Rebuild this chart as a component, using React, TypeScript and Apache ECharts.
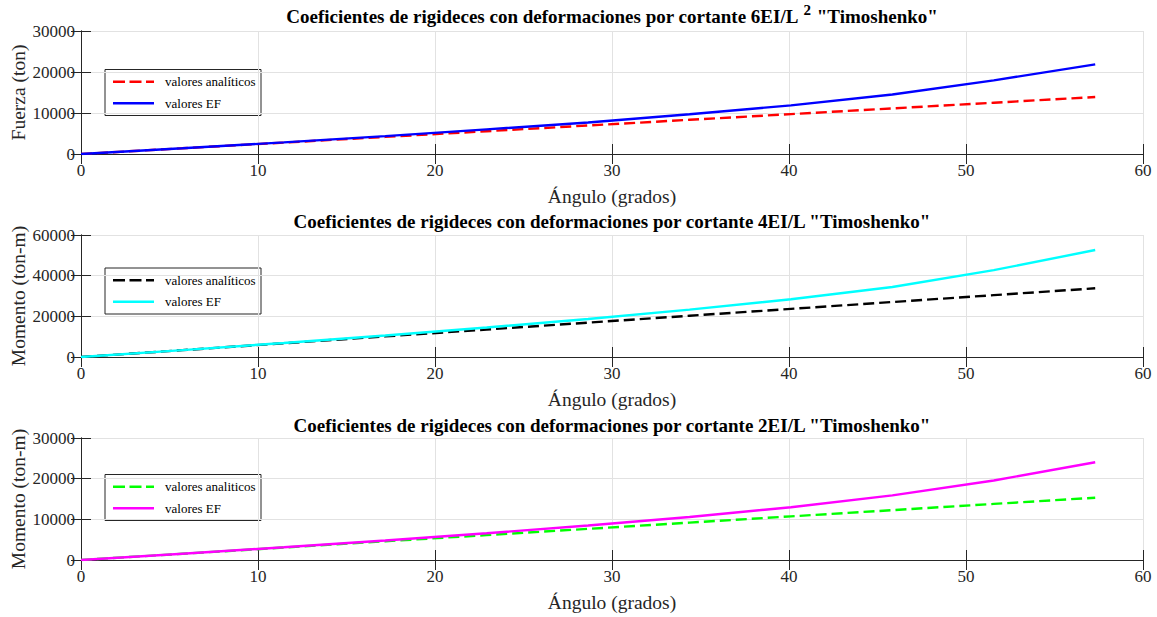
import React, { useEffect, useRef } from "react";
import * as echarts from "echarts";

// Ángulos (grados) — pasos de 0.1 rad
const angles = [0, 5.73, 11.46, 17.19, 22.92, 28.65, 34.38, 40.11, 45.84, 51.57, 57.3];

// 6EI/L^2 — Fuerza (ton)
const fuerzaAnalitico = [0, 1390, 2780, 4170, 5560, 6950, 8340, 9730, 11120, 12510, 13900];
const fuerzaEF = [0, 1400, 2840, 4360, 6000, 7700, 9680, 11870, 14500, 17950, 21850];

// 4EI/L — Momento (ton-m)
const momento4Analitico = [0, 3380, 6760, 10140, 13520, 16900, 20280, 23660, 27040, 30420, 33800];
const momento4EF = [0, 3400, 6900, 10600, 14530, 18670, 23320, 28390, 34400, 42700, 52600];

// 2EI/L — Momento (ton-m)
const momento2Analitico = [0, 1530, 3060, 4600, 6130, 7660, 9190, 10730, 12260, 13790, 15320];
const momento2EF = [0, 1540, 3130, 4800, 6590, 8470, 10570, 12980, 15900, 19550, 24050];

const xTicks = [0, 10, 20, 30, 40, 50, 60];
const yMax = [30000, 60000, 30000];
const yInterval = [10000, 20000, 10000];
const yNames = ["Fuerza (ton)", "Momento (ton-m)", "Momento (ton-m)"];
const xName = "Ángulo (grados)";
const titles = [
  ["Coeficientes de rigideces con deformaciones por cortante 6EI/L", "2", ' "Timoshenko"'],
  ['Coeficientes de rigideces con deformaciones por cortante 4EI/L "Timoshenko"'],
  ['Coeficientes de rigideces con deformaciones por cortante 2EI/L "Timoshenko"'],
];
const legendLabels = [
  ["valores analíticos", "valores EF"],
  ["valores analíticos", "valores EF"],
  ["valores analiticos", "valores EF"],
];
const analyticColors = ["#ff0000", "#000000", "#00ff00"];
const efColors = ["#0000ff", "#00ffff", "#ff00ff"];

const FONT = "'Liberation Serif', 'Times New Roman', serif";
const AX = "#262626";
const DASH = [11, 5];

const gridTops = [31, 235, 438];
const gridHeights = [123, 122, 122];
const gridLeft = 81;
const gridWidth = 1062;
const titleY = [15, 219.5, 423.5];
const legendTops = [69.5, 268, 474.5];

export default function App() {
  const ref = useRef<HTMLDivElement>(null);

  useEffect(() => {
    if (!ref.current) return;
    const chart = echarts.init(ref.current, null, { renderer: "svg" });

    const analyticSets = [fuerzaAnalitico, momento4Analitico, momento2Analitico];
    const efSets = [fuerzaEF, momento4EF, momento2EF];

    const grids: any[] = [];
    const xAxes: any[] = [];
    const yAxes: any[] = [];
    const series: any[] = [];
    const graphics: any[] = [];

    for (let i = 0; i < 3; i++) {
      grids.push({
        left: gridLeft,
        top: gridTops[i],
        width: gridWidth,
        height: gridHeights[i],
        containLabel: false,
        outerBoundsMode: "none",
      });
      const tickCommon = {
        show: true,
        inside: true,
        length: 10,
        lineStyle: { color: AX, width: 1 },
      };
      xAxes.push({
        type: "value",
        gridIndex: i,
        position: "bottom",
        min: xTicks[0],
        max: xTicks[xTicks.length - 1],
        interval: 10,
        name: xName,
        nameLocation: "middle",
        nameGap: 32,
        nameMoveOverlap: false,
        nameTextStyle: { fontFamily: FONT, fontSize: 19.5, color: AX },
        axisLine: { show: true, lineStyle: { color: AX, width: 1 } },
        axisTick: tickCommon,
        axisLabel: {
          fontFamily: FONT,
          fontSize: 17,
          color: AX,
          margin: 8,
          formatter: (v: number) => String(v),
        },
        splitLine: { show: true, lineStyle: { color: "#e2e2e2", width: 1 } },
      });
      xAxes.push({
        type: "value",
        gridIndex: i,
        position: "top",
        min: xTicks[0],
        max: xTicks[xTicks.length - 1],
        interval: 10,
        axisLine: { show: true, lineStyle: { color: AX, width: 1 } },
        axisTick: tickCommon,
        axisLabel: { show: false },
        splitLine: { show: false },
      });
      yAxes.push({
        type: "value",
        gridIndex: i,
        position: "left",
        min: 0,
        max: yMax[i],
        interval: yInterval[i],
        name: yNames[i],
        nameLocation: "middle",
        nameGap: 53,
        nameMoveOverlap: false,
        nameTextStyle: { fontFamily: FONT, fontSize: 19.5, color: AX },
        axisLine: { show: true, lineStyle: { color: AX, width: 1 } },
        axisTick: tickCommon,
        axisLabel: {
          fontFamily: FONT,
          fontSize: 17,
          color: AX,
          margin: 6,
          formatter: (v: number) => String(v),
        },
        splitLine: { show: true, lineStyle: { color: "#e2e2e2", width: 1 } },
      });
      yAxes.push({
        type: "value",
        gridIndex: i,
        position: "right",
        min: 0,
        max: yMax[i],
        interval: yInterval[i],
        axisLine: { show: true, lineStyle: { color: AX, width: 1 } },
        axisTick: tickCommon,
        axisLabel: { show: false },
        splitLine: { show: false },
      });

      series.push({
        name: legendLabels[i][0],
        type: "line",
        xAxisIndex: 2 * i,
        yAxisIndex: 2 * i,
        data: angles.map((a, k) => [a, analyticSets[i][k]]),
        symbol: "none",
        showSymbol: false,
        lineStyle: { color: analyticColors[i], width: 2.4, type: DASH },
        itemStyle: { color: analyticColors[i] },
        z: 3,
      });
      series.push({
        name: legendLabels[i][1],
        type: "line",
        xAxisIndex: 2 * i,
        yAxisIndex: 2 * i,
        data: angles.map((a, k) => [a, efSets[i][k]]),
        symbol: "none",
        showSymbol: false,
        lineStyle: { color: efColors[i], width: 2.4, type: "solid" },
        itemStyle: { color: efColors[i] },
        z: 4,
      });

      // legend box (MATLAB-style)
      const lt = legendTops[i];
      const rowY = [lt + 12.3, lt + 33.8];
      graphics.push({
        type: "group",
        z: 100,
        children: [
          {
            type: "rect",
            shape: { x: 105, y: lt, width: 156, height: 46 },
            style: { fill: "#ffffff", stroke: AX, lineWidth: 1 },
          },
          {
            type: "line",
            shape: { x1: 113, y1: rowY[0], x2: 154, y2: rowY[0] },
            style: { stroke: analyticColors[i], lineWidth: 2.4, lineDash: [12, 4.5] },
          },
          {
            type: "text",
            x: 165,
            y: rowY[0],
            style: {
              text: legendLabels[i][0],
              fontFamily: FONT,
              fontSize: 13,
              fill: "#000",
              verticalAlign: "middle",
              align: "left",
            },
          },
          {
            type: "line",
            shape: { x1: 113, y1: rowY[1], x2: 154, y2: rowY[1] },
            style: { stroke: efColors[i], lineWidth: 2.4 },
          },
          {
            type: "text",
            x: 165,
            y: rowY[1],
            style: {
              text: legendLabels[i][1],
              fontFamily: FONT,
              fontSize: 13,
              fill: "#000",
              verticalAlign: "middle",
              align: "left",
            },
          },
        ],
      });

      const t = titles[i];
      const text =
        t.length === 3 ? `{b|${t[0]}}{sup|${t[1]}}{b|${t[2]}}` : `{b|${t[0]}}`;
      graphics.push({
        type: "text",
        x: gridLeft + gridWidth / 2,
        y: titleY[i],
        style: {
          text,
          align: "center",
          verticalAlign: "middle",
          fill: "#000",
          rich: {
            b: {
              fontFamily: FONT,
              fontSize: 19,
              fontWeight: "bold",
              fill: "#000",
              verticalAlign: "bottom",
              lineHeight: 22,
            },
            sup: {
              fontFamily: FONT,
              fontSize: 15,
              fontWeight: "bold",
              fill: "#000",
              verticalAlign: "bottom",
              lineHeight: 16,
              padding: [0, 1, 9, 5],
            },
          },
        },
      });
    }

    chart.setOption({
      animation: false,
      backgroundColor: "#ffffff",
      grid: grids,
      xAxis: xAxes,
      yAxis: yAxes,
      series,
      graphic: graphics,
    });

    return () => chart.dispose();
  }, []);

  return (
    <div
      ref={ref}
      style={{ position: "fixed", left: 0, top: 0, width: 1157, height: 617, background: "#fff" }}
    />
  );
}
